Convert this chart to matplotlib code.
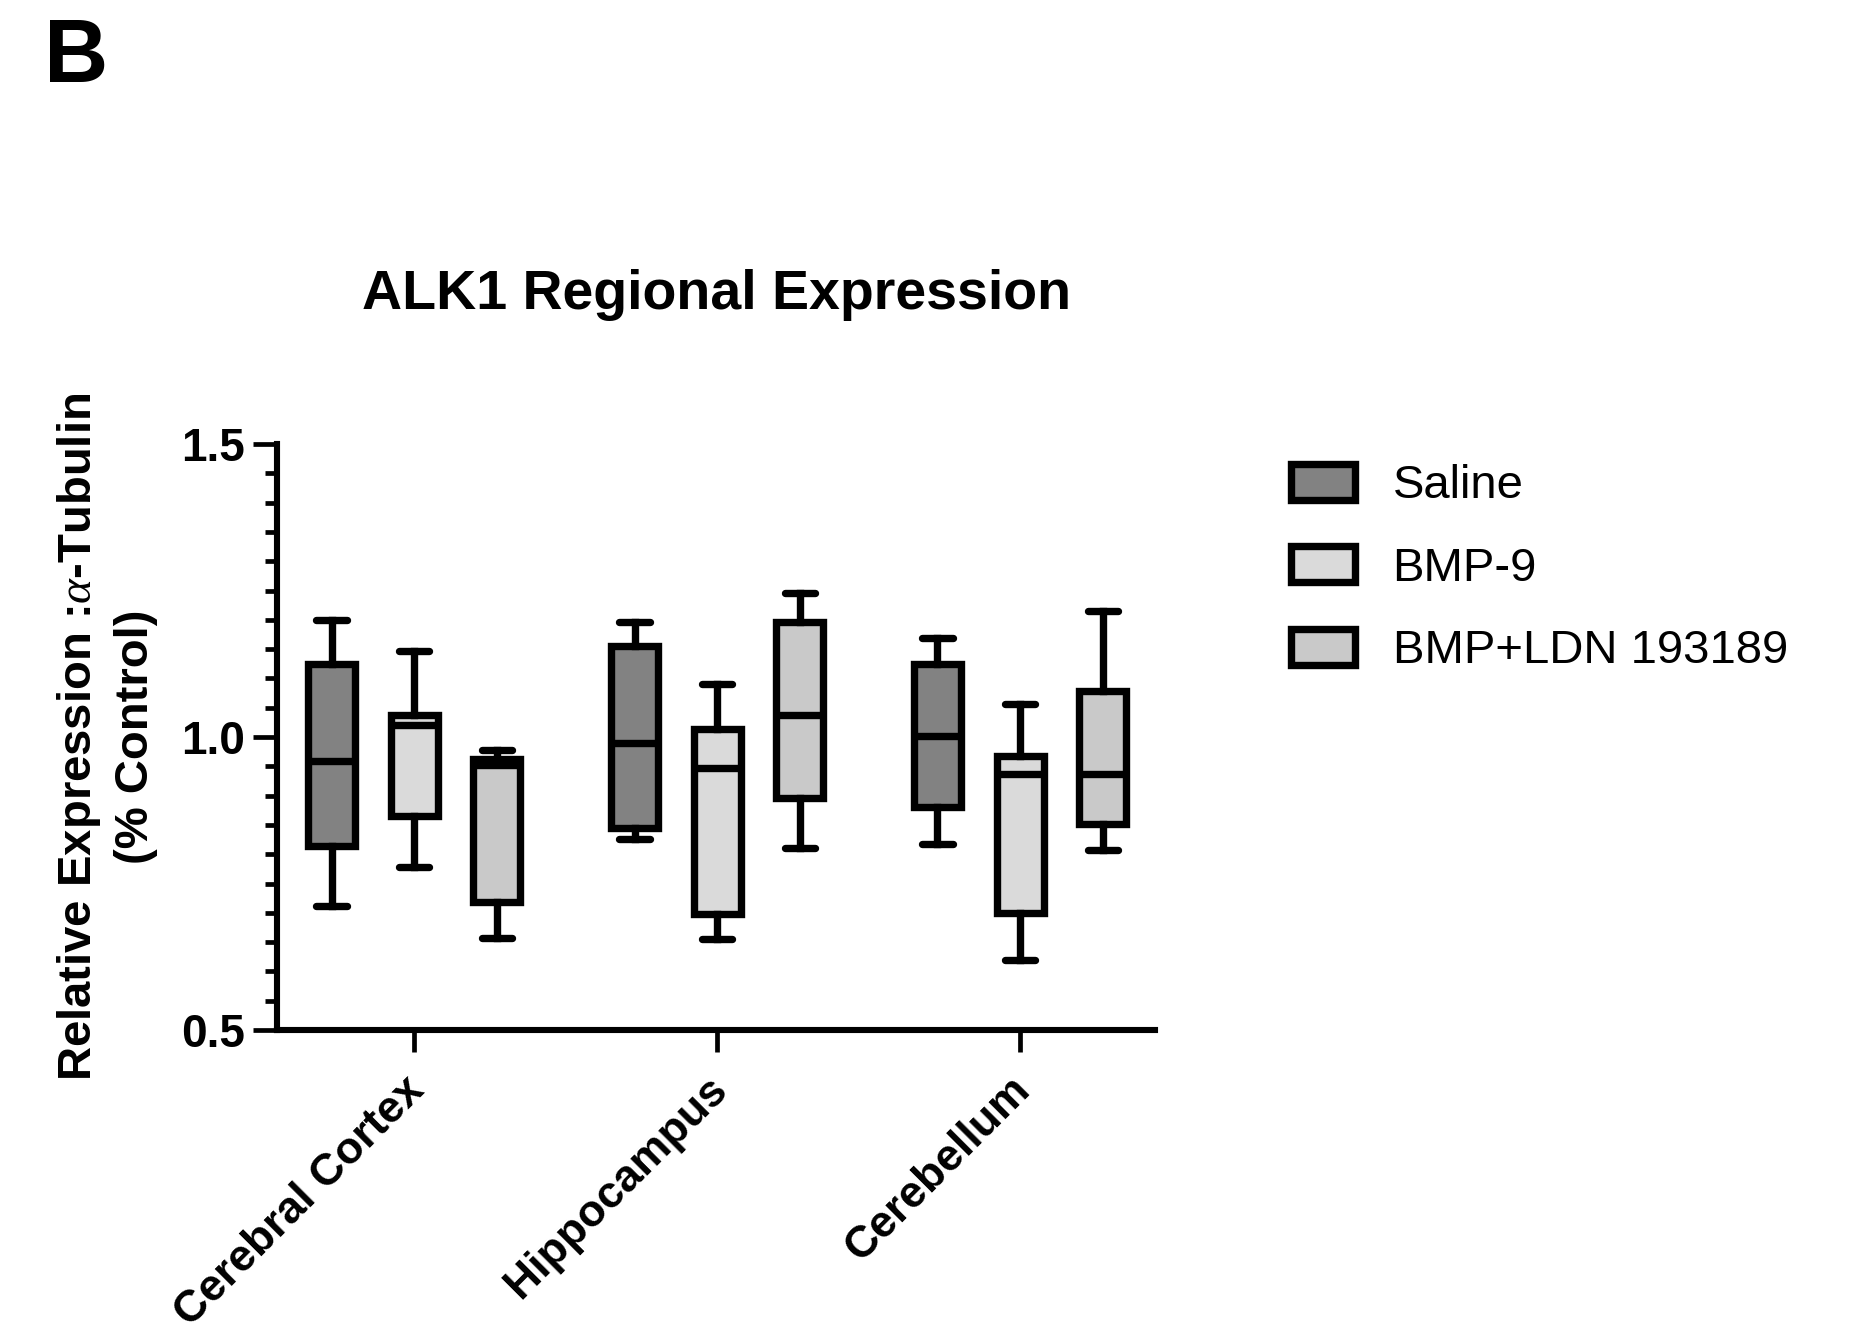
import matplotlib
matplotlib.use("Agg")
import matplotlib.pyplot as plt
from matplotlib.patches import Patch
from matplotlib.ticker import MultipleLocator
from matplotlib.transforms import ScaledTranslation
from matplotlib import font_manager

plt.rcParams['font.family'] = ['Liberation Sans', 'DejaVu Sans']
plt.rcParams['mathtext.fontset'] = 'custom'
plt.rcParams['mathtext.it'] = 'Liberation Serif:italic'
plt.rcParams['mathtext.rm'] = 'Liberation Sans:bold'
plt.rcParams['mathtext.bf'] = 'Liberation Sans:bold'

categories = ['Cerebral Cortex', 'Hippocampus', 'Cerebellum']
groups = ['Saline', 'BMP-9', 'BMP+LDN 193189']
colors = ['#828282', '#dadada', '#c9c9c9']

saline_min = [0.711, 0.826, 0.817]
saline_q1 = [0.814, 0.845, 0.880]
saline_med = [0.959, 0.989, 1.002]
saline_q3 = [1.125, 1.156, 1.124]
saline_max = [1.199, 1.196, 1.169]

bmp9_min = [0.778, 0.656, 0.619]
bmp9_q1 = [0.865, 0.698, 0.700]
bmp9_med = [1.020, 0.947, 0.937]
bmp9_q3 = [1.037, 1.014, 0.968]
bmp9_max = [1.147, 1.091, 1.056]

ldn_min = [0.657, 0.810, 0.807]
ldn_q1 = [0.719, 0.896, 0.851]
ldn_med = [0.953, 1.038, 0.937]
ldn_q3 = [0.963, 1.196, 1.079]
ldn_max = [0.977, 1.245, 1.215]

series = [
    (saline_min, saline_q1, saline_med, saline_q3, saline_max),
    (bmp9_min, bmp9_q1, bmp9_med, bmp9_q3, bmp9_max),
    (ldn_min, ldn_q1, ldn_med, ldn_q3, ldn_max),
]

fig = plt.figure(figsize=(18.51, 13.33), dpi=100)
ax = fig.add_axes([277/1851, 1 - 1030/1333, 878/1851, 586/1333])

offsets = [-0.273, 0.0, 0.273]
lw = 5.3
for g, (mn, q1, md, q3, mx) in enumerate(series):
    stats = []
    for i in range(len(categories)):
        stats.append(dict(whislo=mn[i], q1=q1[i], med=md[i], q3=q3[i], whishi=mx[i], fliers=[]))
    pos = [i + offsets[g] for i in range(len(categories))]
    ax.bxp(stats, positions=pos, widths=0.155, patch_artist=True, showfliers=False,
           capwidths=0.1,
           boxprops=dict(facecolor=colors[g], edgecolor='black', linewidth=lw, joinstyle='miter'),
           medianprops=dict(color='black', linewidth=lw, solid_capstyle='butt'),
           whiskerprops=dict(color='black', linewidth=lw),
           capprops=dict(color='black', linewidth=lw, solid_capstyle='round'),
           manage_ticks=False, zorder=3)

ax.set_xlim(-0.453, 2.445)
ax.set_ylim(0.5, 1.5)
ax.set_xticks(range(len(categories)))
ax.set_yticks([0.5, 1.0, 1.5])
ax.yaxis.set_minor_locator(MultipleLocator(0.05))
ax.tick_params(axis='y', which='major', length=17, width=3.4, pad=6, direction='out')
ax.tick_params(axis='y', which='minor', length=9, width=3.4, direction='out')
ax.tick_params(axis='x', which='major', length=16, width=3.4, pad=12, direction='out')
ax.set_xticklabels(categories, rotation=45, ha='right', va='top', rotation_mode='anchor',
                   fontsize=32, fontweight='bold')
ax.set_yticklabels(['0.5', '1.0', '1.5'], fontsize=33, fontweight='bold')
shift = ScaledTranslation(-11/100, 0, fig.dpi_scale_trans)
for lab in ax.get_xticklabels():
    lab.set_transform(lab.get_transform() + shift)
for s in ['top', 'right']:
    ax.spines[s].set_visible(False)
for s in ['left', 'bottom']:
    ax.spines[s].set_linewidth(4.4)
ax.patch.set_alpha(0)

ax.set_ylabel('Relative Expression :$\\mathit{\\alpha}$-Tubulin\n(% Control)',
              fontsize=34, fontweight='bold', linespacing=1.3)
ax.yaxis.set_label_coords(-0.136, 0.5)

fig.text(717/1851, 1 - 309/1333, 'ALK1 Regional Expression', ha='center', va='baseline',
         fontsize=40, fontweight='bold')

names = {f.name for f in font_manager.fontManager.ttflist}
bfam = 'Liberation Sans Narrow' if 'Liberation Sans Narrow' in names else 'Liberation Sans'
fig.text(44/1851, 1 - 82/1333, 'B', ha='left', va='baseline', fontsize=64, fontweight='bold',
         family=[bfam, 'DejaVu Sans'])

handles = [Patch(facecolor=c, edgecolor='black', linewidth=lw, joinstyle='miter') for c in colors]
fig.legend(handles, groups, loc='upper left', bbox_to_anchor=(1291/1851, 1 - 464/1333),
           frameon=False, fontsize=34, handlelength=1.35, handleheight=0.8,
           handletextpad=0.8, labelspacing=0.8, borderpad=0, borderaxespad=0)

fig.savefig('out.png', dpi=100, facecolor='white')
